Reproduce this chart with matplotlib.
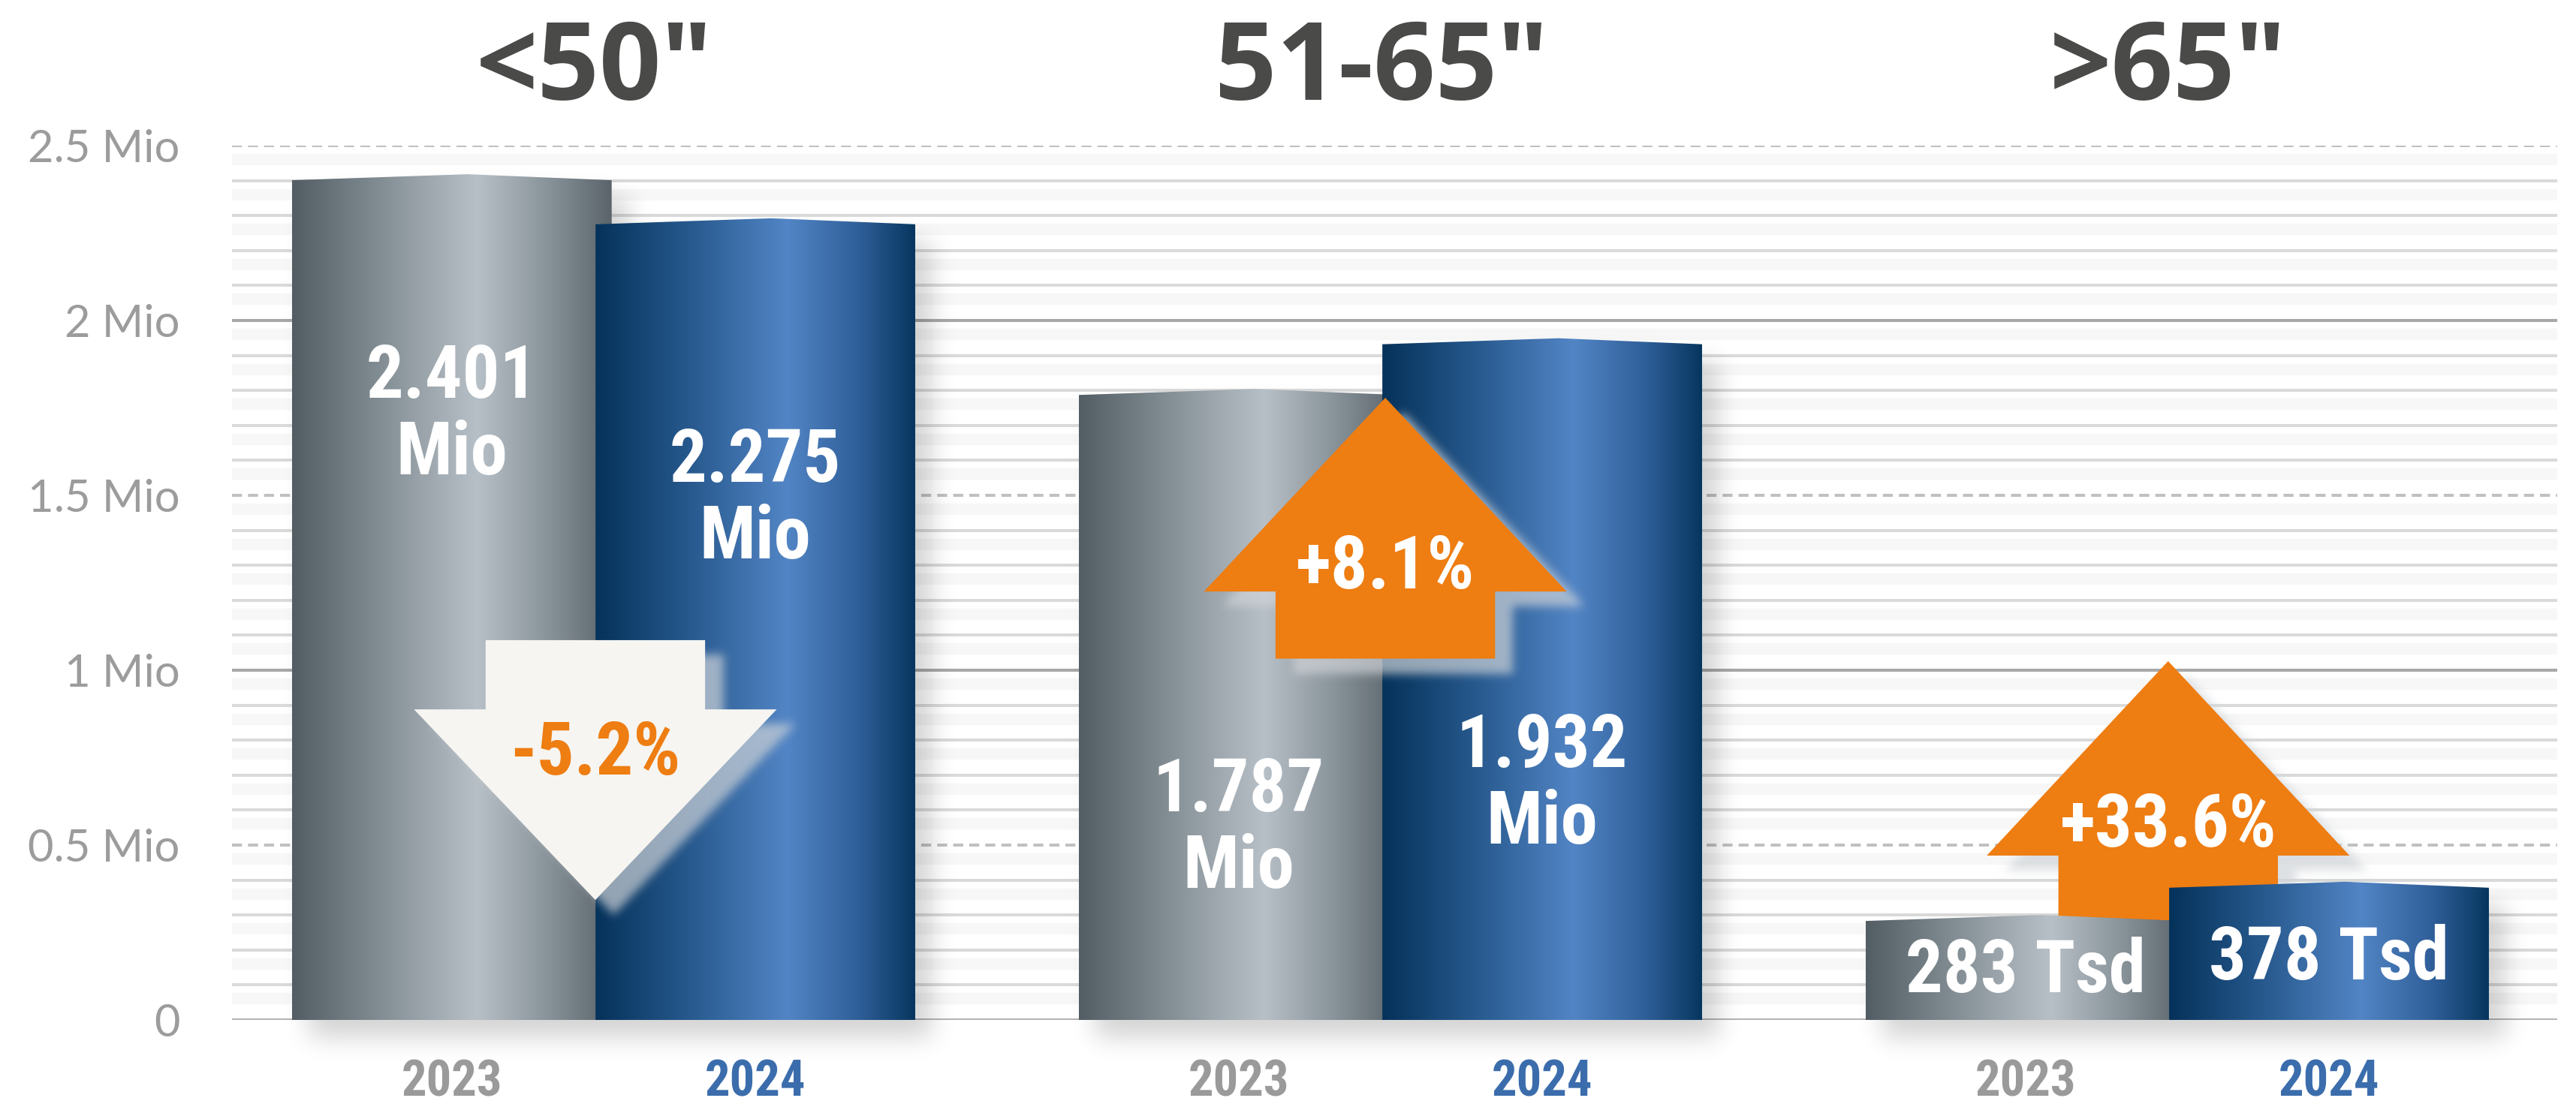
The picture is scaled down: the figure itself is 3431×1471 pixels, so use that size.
import numpy as np
import matplotlib
matplotlib.use("Agg")
import matplotlib.pyplot as plt
from matplotlib import font_manager
from matplotlib.path import Path
from matplotlib.patches import Polygon
from matplotlib.colors import LinearSegmentedColormap, to_rgb

# ---------------- data ----------------
categories = ['<50"', '51-65"', '>65"']
years = ['2023', '2024']
values_2023 = [2.401, 1.787, 0.283]          # Mio units
values_2024 = [2.275, 1.932, 0.378]
labels_2023 = ['2.401\nMio', '1.787\nMio', '283 Tsd']
labels_2024 = ['2.275\nMio', '1.932\nMio', '378 Tsd']
changes = ['-5.2%', '+8.1%', '+33.6%']
ytick_vals = [0, 0.5, 1, 1.5, 2, 2.5]
ytick_labels = ['0', '0.5 Mio', '1 Mio', '1.5 Mio', '2 Mio', '2.5 Mio']

# ---------------- layout / style ----------------
W, H = 3431, 1471
OFF, BW = 0.193, 0.4065
PX = 2.5 / (1359 - 194)          # data units per pixel (y)
PEAK = 8 * PX
label_base_2023 = [1.779, 0.597, 0.079]
label_base_2024 = [1.539, 0.723, 0.116]
LINE_GAP = 0.219
arrows = [  # direction, centre, tip, head base, shaft end, text baseline, zorder, face, text colour
    dict(d=-1, cx=-0.0105, tip=0.343, base=0.888, end=1.086, ty=0.702, z=4, fc='#f6f5f1', tc='#ee7d12'),
    dict(d=1, cx=0.9935, tip=1.779, base=1.225, end=1.033, ty=1.233, z=4, fc='#ee7d12', tc='white'),
    dict(d=1, cx=1.9885, tip=1.026, base=0.470, end=0.10, ty=0.496, z=1.8, fc='#ee7d12', tc='white'),
]
HEAD_HW, SHAFT_HW = 0.2305, 0.1395
VAL_FS = 71

names = {f.name for f in font_manager.fontManager.ttflist}
COND = next((n for n in ['Roboto Condensed', 'Open Sans Condensed', 'Liberation Sans Narrow']
             if n in names), 'Liberation Sans')
COND_F = [COND, 'DejaVu Sans']
TITLE_F = ['Open Sans', 'DejaVu Sans']
LIGHT_F = ['Lato', 'Open Sans', 'DejaVu Sans']

gray_cmap = LinearSegmentedColormap.from_list('g', [
    (0.0, '#535d64'), (0.3, '#879298'), (0.58, '#b8c0c7'), (0.8, '#89939a'), (1.0, '#5a646a')])
blue_cmap = LinearSegmentedColormap.from_list('b', [
    (0.0, '#05325a'), (0.3, '#285a8f'), (0.6, '#5285c5'), (0.82, '#30609a'), (1.0, '#07375f')])

fig = plt.figure(figsize=(W / 100, H / 100), dpi=100)
fig.patch.set_facecolor('white')
ax = fig.add_axes([309 / W, (H - 1359) / H, (3406 - 309) / W, (1359 - 194) / H])
ax.set_xlim(-0.4723, 2.483)
ax.set_ylim(0, 2.5)
ax.set_autoscale_on(False)
for s in ax.spines.values():
    s.set_visible(False)


def gblur(a, s):
    r = int(3 * s)
    k = np.exp(-0.5 * (np.arange(-r, r + 1) / s) ** 2)
    k /= k.sum()
    a = np.apply_along_axis(lambda m: np.convolve(m, k, mode='same'), 0, a)
    a = np.apply_along_axis(lambda m: np.convolve(m, k, mode='same'), 1, a)
    return a


def shadow(polys, dx, dy, sigma, color, alpha, z):
    disp = [ax.transData.transform(np.asarray(p)) + np.array([dx, -dy]) for p in polys]
    allp = np.vstack(disp)
    pad = 3 * sigma + 2
    x0, y0 = np.floor(allp.min(0) - pad)
    x1, y1 = np.ceil(allp.max(0) + pad)
    nx, ny = int(x1 - x0), int(y1 - y0)
    X, Y = np.meshgrid(x0 + 0.5 + np.arange(nx), y0 + 0.5 + np.arange(ny))
    P = np.column_stack([X.ravel(), Y.ravel()])
    m = np.zeros(nx * ny)
    for d in disp:
        m = np.maximum(m, Path(d).contains_points(P).astype(float))
    m = gblur(m.reshape(ny, nx), sigma)
    img = np.zeros((ny, nx, 4))
    img[..., :3] = to_rgb(color)
    img[..., 3] = np.clip(m, 0, 1) * alpha
    inv = ax.transData.inverted()
    ex0, ey0 = inv.transform((x0, y0))
    ex1, ey1 = inv.transform((x1, y1))
    im = ax.imshow(img, extent=(ex0, ex1, ey0, ey1), origin='lower', aspect='auto',
                   zorder=z, interpolation='bilinear')
    im.set_clip_on(False)


# ---------------- grid ----------------
minor = [round(v, 1) for v in np.arange(0.1, 2.5, 0.1) if round(v * 10) % 5 != 0]
for v in minor + ytick_vals:
    if v > 0:
        ax.axhline(v - 18 * PX, color='#f7f7f7', lw=11, zorder=0.3)
for v in minor:
    ax.axhline(v, color='#dadada', lw=2.9, zorder=0.5)
for v in ytick_vals:
    if v == int(v):
        ax.axhline(v, color='#a8a8a8' if v > 0 else '#b4b4b4', lw=2.9, zorder=0.6)
    else:
        ax.axhline(v, color='#c0c0c0', lw=2.9, ls=(0, (3.3, 2.0)), zorder=0.6)

# ---------------- bars ----------------
x = np.arange(len(categories))
b23 = ax.bar(x - OFF, values_2023, width=BW, color='none', edgecolor='none', zorder=2)
b24 = ax.bar(x + OFF, values_2024, width=BW, color='none', edgecolor='none', zorder=2)


def bar_poly(r):
    x0, w, h = r.get_x(), r.get_width(), r.get_height()
    return [(x0, 0), (x0, h), (x0 + 0.55 * w, h + PEAK), (x0 + w, h), (x0 + w, 0)]


# bar shadows
for r1, r2 in zip(b23, b24):
    shadow([bar_poly(r1), bar_poly(r2)], 22, 24, 16, '#000000', 0.17, 1.5)

grad = np.linspace(0, 1, 256).reshape(1, -1)
for bars, cmap, z in [(b23, gray_cmap, 2.0), (b24, blue_cmap, 2.1)]:
    for r in bars:
        poly = bar_poly(r)
        patch = Polygon(poly, closed=True, facecolor='none', edgecolor='none')
        ax.add_patch(patch)
        x0, w, h = r.get_x(), r.get_width(), r.get_height()
        im = ax.imshow(grad, cmap=cmap, extent=(x0, x0 + w, 0, h + PEAK), origin='lower',
                       aspect='auto', zorder=z, interpolation='bilinear')
        im.set_clip_path(patch)

# value labels
for bars, labels, bases in [(b23, labels_2023, label_base_2023), (b24, labels_2024, label_base_2024)]:
    for r, lab, yb in zip(bars, labels, bases):
        cx = r.get_x() + r.get_width() / 2
        for i, line in enumerate(lab.split('\n')):
            ax.text(cx, yb - i * LINE_GAP, line, ha='center', va='baseline', color='white',
                    fontsize=VAL_FS, fontweight='bold', family=COND_F, zorder=10)

# ---------------- arrows ----------------
for a, txt in zip(arrows, changes):
    cx = a['cx']
    poly = [(cx - SHAFT_HW, a['end']), (cx - SHAFT_HW, a['base']), (cx - HEAD_HW, a['base']),
            (cx, a['tip']), (cx + HEAD_HW, a['base']), (cx + SHAFT_HW, a['base']),
            (cx + SHAFT_HW, a['end'])]
    shadow([poly], 24, 20, 6, '#d0d4d8', 0.7, a['z'] - 0.05)
    ax.add_patch(Polygon(poly, closed=True, facecolor=a['fc'], edgecolor='none', zorder=a['z']))
    ax.text(cx, a['ty'], txt, ha='center', va='baseline', color=a['tc'], fontsize=VAL_FS,
            fontweight='bold', family=COND_F, zorder=a['z'] + 0.01 if a['z'] > 2 else 1.9)

# ---------------- titles ----------------
for g, cat in zip(x, categories):
    ax.text(g - 0.0115, 2.631, cat, ha='center', va='baseline', fontsize=104, fontweight='bold',
            color='#4a4a48', family=TITLE_F, clip_on=False)

# ---------------- ticks ----------------
ax.set_yticks(ytick_vals)
ax.set_yticklabels(ytick_labels)
ax.tick_params(axis='y', length=0, pad=50, labelsize=43, labelcolor='#9c9c9c')
for lbl in ax.get_yticklabels():
    lbl.set_family(LIGHT_F)
    lbl.set_fontweight('normal')

xt = list(x - OFF) + list(x + OFF)
xl = [years[0]] * len(x) + [years[1]] * len(x)
ax.set_xticks(xt)
ax.set_xticklabels(xl)
ax.tick_params(axis='x', length=0, pad=37, labelsize=48)
for lbl in ax.get_xticklabels():
    lbl.set_family(COND_F)
    lbl.set_fontweight('bold')
    lbl.set_color('#9a9a9a' if lbl.get_text() == years[0] else '#3b6dac')

fig.savefig('out.png', dpi=100, facecolor='white')
